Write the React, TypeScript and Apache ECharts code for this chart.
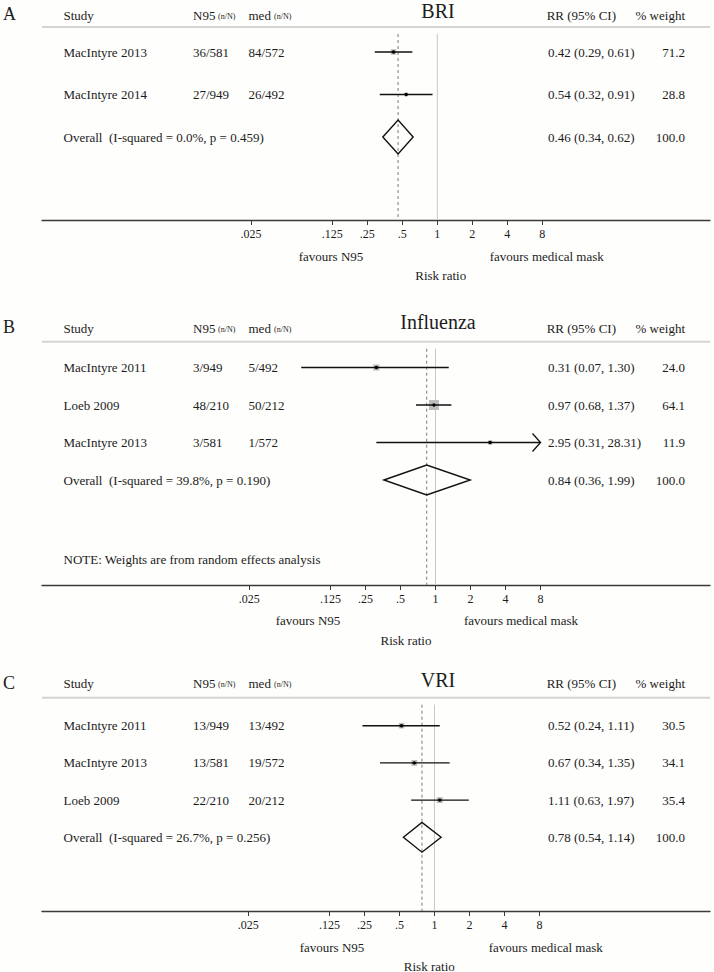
import React, { useEffect, useRef } from 'react';
import * as echarts from 'echarts';

// ---- axis ticks (risk ratio, log scale) ----
const tickValues = [0.025, 0.125, 0.25, 0.5, 1, 2, 4, 8];
const tickLabels = ['.025', '.125', '.25', '.5', '1', '2', '4', '8'];
const plotMaxRR = 8;

// ---- Panel A: BRI ----
const briStudies = ['MacIntyre 2013', 'MacIntyre 2014'];
const briN95 = ['36/581', '27/949'];
const briMed = ['84/572', '26/492'];
const briRR = [0.42, 0.54];
const briLow = [0.29, 0.32];
const briHigh = [0.61, 0.91];
const briWeight = [71.2, 28.8];
const briOverall = [0.46, 0.34, 0.62];
const briOverallLabel = 'Overall  (I-squared = 0.0%, p = 0.459)';

// ---- Panel B: Influenza ----
const fluStudies = ['MacIntyre 2011', 'Loeb 2009', 'MacIntyre 2013'];
const fluN95 = ['3/949', '48/210', '3/581'];
const fluMed = ['5/492', '50/212', '1/572'];
const fluRR = [0.31, 0.97, 2.95];
const fluLow = [0.07, 0.68, 0.31];
const fluHigh = [1.3, 1.37, 28.31];
const fluWeight = [24.0, 64.1, 11.9];
const fluOverall = [0.84, 0.36, 1.99];
const fluOverallLabel = 'Overall  (I-squared = 39.8%, p = 0.190)';
const fluNote = 'NOTE: Weights are from random effects analysis';

// ---- Panel C: VRI ----
const vriStudies = ['MacIntyre 2011', 'MacIntyre 2013', 'Loeb 2009'];
const vriN95 = ['13/949', '13/581', '22/210'];
const vriMed = ['13/492', '19/572', '20/212'];
const vriRR = [0.52, 0.67, 1.11];
const vriLow = [0.24, 0.34, 0.63];
const vriHigh = [1.11, 1.35, 1.97];
const vriWeight = [30.5, 34.1, 35.4];
const vriOverall = [0.78, 0.54, 1.14];
const vriOverallLabel = 'Overall  (I-squared = 26.7%, p = 0.256)';

const FONT = '"Liberation Serif", "Times New Roman", serif';
const INK = '#1c1c1c';
const PX_PER_DOUBLING = 35;
const AXIS_LEFT = 42;
const AXIS_RIGHT = 710;
const COL = { study: 63.5, n95: 193, med: 248.5, rr: 548, weight: 685 };

const panels = [
  {
    letter: 'A', title: 'BRI',
    studies: briStudies, n95: briN95, med: briMed, rr: briRR, low: briLow, high: briHigh, weight: briWeight,
    overall: briOverall, overallLabel: briOverallLabel, note: '',
    lay: { headerLine: 27, rowStart: 52, spacing: 42.5, axisY: 220, x1: 437.3, headerY: 15, titleY: 10.5, letterY: 14,
      boxScale: 0.65, favL: 331, favR: 546.7, riskX: 440.7, noteRow: 0, favDy: 36, riskDy: 55 },
  },
  {
    letter: 'B', title: 'Influenza',
    studies: fluStudies, n95: fluN95, med: fluMed, rr: fluRR, low: fluLow, high: fluHigh, weight: fluWeight,
    overall: fluOverall, overallLabel: fluOverallLabel, note: fluNote,
    lay: { headerLine: 341.7, rowStart: 367.5, spacing: 37.5, axisY: 585, x1: 435.5, headerY: 328, titleY: 321.7, letterY: 326.7,
      boxScale: 1.25, favL: 308, favR: 521, riskX: 406, noteRow: 6.13, favDy: 35, riskDy: 55 },
  },
  {
    letter: 'C', title: 'VRI',
    studies: vriStudies, n95: vriN95, med: vriMed, rr: vriRR, low: vriLow, high: vriHigh, weight: vriWeight,
    overall: vriOverall, overallLabel: vriOverallLabel, note: '',
    lay: { headerLine: 697.7, rowStart: 725.7, spacing: 37.2, axisY: 911, x1: 434.5, headerY: 683.3, titleY: 680, letterY: 683,
      boxScale: 1.0, favL: 332, favR: 545.7, riskX: 429.3, noteRow: 0, favDy: 36, riskDy: 55 },
  },
];

const fmt2 = (v: number) => v.toFixed(2);
const rrText = (r: number, l: number, h: number) => `${fmt2(r)} (${fmt2(l)}, ${fmt2(h)})`;

const txt = (text: string, x: number, y: number, extra: any = {}) => ({
  type: 'text',
  style: {
    text, x, y, fill: INK, fontSize: 13, fontFamily: FONT,
    align: 'left', verticalAlign: 'middle', ...extra,
  },
});

function buildOption() {
  const grid: any[] = [];
  const xAxis: any[] = [];
  const yAxis: any[] = [];
  const series: any[] = [];
  const tickLogs = tickValues.map((t) => Math.log2(t));

  panels.forEach((p, i) => {
    const L = p.lay;
    grid.push({ left: AXIS_LEFT, width: AXIS_RIGHT - AXIS_LEFT, top: L.headerLine, height: L.axisY - L.headerLine });
    xAxis.push({
      type: 'value', gridIndex: i,
      min: (AXIS_LEFT - L.x1) / PX_PER_DOUBLING,
      max: (AXIS_RIGHT - L.x1) / PX_PER_DOUBLING,
      axisLine: { show: true, onZero: false, lineStyle: { color: '#3a3a3a', width: 1.3 } },
      axisTick: { show: true, customValues: tickLogs, length: 5, lineStyle: { color: '#3a3a3a', width: 1 } },
      axisLabel: {
        show: true, customValues: tickLogs, margin: 8, fontSize: 12, fontFamily: FONT, color: INK,
        formatter: (v: number) => {
          const k = tickLogs.findIndex((t) => Math.abs(t - v) < 1e-6);
          return k >= 0 ? tickLabels[k] : '';
        },
      },
      splitLine: { show: false },
    });
    yAxis.push({
      type: 'value', gridIndex: i, inverse: true, show: false,
      min: 1 - (L.rowStart - L.headerLine) / L.spacing,
      max: 1 + (L.axisY - L.rowStart) / L.spacing,
    });

    const nRows = p.studies.length;
    const overallRow = nRows + 1;
    const totalWeight = p.weight.reduce((a, b) => a + b, 0);

    // frame: header, reference lines, titles, axis captions
    series.push({
      type: 'custom', xAxisIndex: i, yAxisIndex: i, clip: false, silent: true, z: 1,
      data: [[0, Math.log2(p.overall[0])]],
      renderItem: (params: any, api: any) => {
        const cs = params.coordSys;
        const top = cs.y;
        const bottom = cs.y + cs.height;
        const xOne = api.coord([api.value(0), 1])[0];
        const xOv = api.coord([api.value(1), 1])[0];
        const children: any[] = [
          { type: 'line', shape: { x1: cs.x, y1: top, x2: cs.x + cs.width, y2: top }, style: { stroke: '#d4d4d4', lineWidth: 2 } },
          { type: 'line', shape: { x1: xOne, y1: top + 7, x2: xOne, y2: bottom }, style: { stroke: '#c8c8c8', lineWidth: 1 } },
          { type: 'line', shape: { x1: xOv, y1: top + 7, x2: xOv, y2: bottom }, style: { stroke: '#7a7a7a', lineWidth: 1, lineDash: [3, 3] } },
          txt(p.letter, 3, L.letterY, { fontSize: 18 }),
          txt(p.title, 438, L.titleY, { fontSize: 20, align: 'center' }),
          txt('Study', COL.study, L.headerY),
          txt('N95', COL.n95, L.headerY),
          txt('(n/N)', COL.n95 + 25, L.headerY + 1, { fontSize: 8 }),
          txt('med', COL.med, L.headerY),
          txt('(n/N)', COL.med + 25.5, L.headerY + 1, { fontSize: 8 }),
          txt('RR (95% CI)', 546.7, L.headerY),
          txt('% weight', COL.weight, L.headerY, { align: 'right' }),
          txt('favours N95', L.favL, L.axisY + L.favDy, { align: 'center' }),
          txt('favours medical mask', L.favR, L.axisY + L.favDy, { align: 'center' }),
          txt('Risk ratio', L.riskX, L.axisY + L.riskDy, { align: 'center' }),
        ];
        if (p.note) {
          const yN = api.coord([0, L.noteRow])[1];
          children.push(txt(p.note, COL.study, yN));
        }
        return { type: 'group', children };
      },
    });

    // study rows
    series.push({
      type: 'custom', xAxisIndex: i, yAxisIndex: i, clip: false, silent: true, z: 2,
      data: p.studies.map((_, k) => [Math.log2(p.rr[k]), Math.log2(p.low[k]), Math.log2(p.high[k]), k + 1, p.weight[k], k]),
      renderItem: (params: any, api: any) => {
        const k = api.value(5);
        const yv = api.value(3);
        const [xc, y] = api.coord([api.value(0), yv]);
        const xl = api.coord([api.value(1), yv])[0];
        const hiLog = api.value(2);
        const maxLog = Math.log2(plotMaxRR);
        const clipped = hiLog > maxLog;
        const xh = api.coord([Math.min(hiLog, maxLog), yv])[0];
        const side = L.boxScale * Math.sqrt(api.value(4));
        const children: any[] = [
          { type: 'rect', shape: { x: xc - side / 2, y: y - side / 2, width: side, height: side }, style: { fill: '#bdbdbd' } },
          { type: 'line', shape: { x1: xl, y1: y, x2: xh, y2: y }, style: { stroke: '#111', lineWidth: 1.4 } },
          { type: 'circle', shape: { cx: xc, cy: y, r: 1.7 }, style: { fill: '#000' } },
          txt(p.studies[k], COL.study, y),
          txt(p.n95[k], COL.n95, y),
          txt(p.med[k], COL.med, y),
          txt(rrText(p.rr[k], p.low[k], p.high[k]), COL.rr, y),
          txt(p.weight[k].toFixed(1), COL.weight, y, { align: 'right' }),
        ];
        if (clipped) {
          children.push({
            type: 'polyline',
            shape: { points: [[xh - 8, y - 9], [xh, y], [xh - 8, y + 9]] },
            style: { stroke: '#111', lineWidth: 1.3, fill: 'none' },
          });
        }
        return { type: 'group', children };
      },
    });

    // overall diamond
    series.push({
      type: 'custom', xAxisIndex: i, yAxisIndex: i, clip: false, silent: true, z: 3,
      data: [[Math.log2(p.overall[0]), Math.log2(p.overall[1]), Math.log2(p.overall[2]), overallRow]],
      renderItem: (params: any, api: any) => {
        const yv = api.value(3);
        const [xc, y] = api.coord([api.value(0), yv]);
        const xl = api.coord([api.value(1), yv])[0];
        const xh = api.coord([api.value(2), yv])[0];
        const h = api.size([0, 0.4])[1];
        return {
          type: 'group',
          children: [
            {
              type: 'polygon',
              shape: { points: [[xl, y], [xc, y - h], [xh, y], [xc, y + h]] },
              style: { fill: 'none', stroke: '#111', lineWidth: 1.4 },
            },
            txt(p.overallLabel, COL.study, y),
            txt(rrText(p.overall[0], p.overall[1], p.overall[2]), COL.rr, y),
            txt(totalWeight.toFixed(1), COL.weight, y, { align: 'right' }),
          ],
        };
      },
    });
  });

  return { animation: false, backgroundColor: '#fefefc', grid, xAxis, yAxis, series };
}

export default function App() {
  const ref = useRef<HTMLDivElement>(null);
  useEffect(() => {
    if (!ref.current) return;
    const chart = echarts.init(ref.current, undefined, { renderer: 'svg' });
    chart.setOption(buildOption() as any);
    return () => chart.dispose();
  }, []);
  return (
    <div
      ref={ref}
      style={{ position: 'absolute', left: 0, top: 0, width: 714, height: 972, background: '#fefefc' }}
    />
  );
}
